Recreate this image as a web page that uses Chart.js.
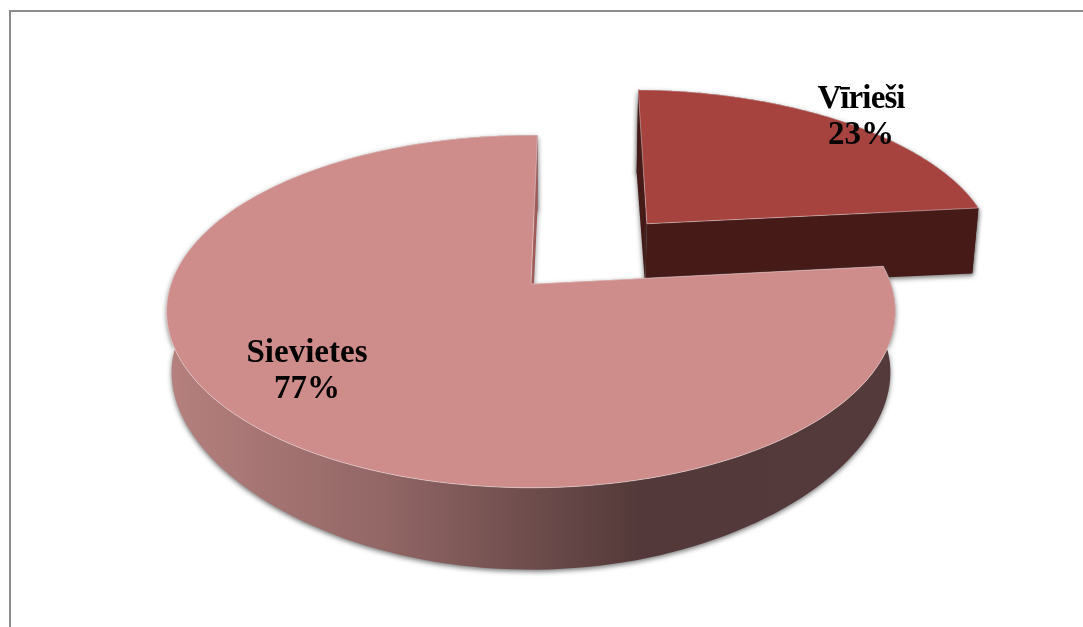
<!DOCTYPE html>
<html>
<head>
<meta charset="utf-8">
<title>Vīrieši / Sievietes</title>
<script src="https://cdn.jsdelivr.net/npm/chart.js@4"></script>
<style>
  html, body { margin: 0; background: #fff; overflow: hidden; }
  #frame { position: absolute; left: 9px; top: 10px; right: -4px; bottom: -4px;
           border-left: 2px solid #8c8c8c; border-top: 2px solid #8c8c8c; }
  #stats { position: absolute; left: 0; top: 0; }
</style>
</head>
<body>
<div id="frame"></div>
<canvas id="stats" width="1083" height="627"></canvas>
<script>
const categories = ["Vīrieši", "Sievietes"];
const shares = [23, 77];
const faceColors = ["#a6433f", "#ce8c8b"];
const cutColors = ["#451a17", "#a05a58"];
const labelSpots = [[861, 108, 144], [307, 362, 398]];
const labelSpacing = ["-0.9px", "0px"];

// perspective of the disc, fitted by eye on the reference
const top3d = { cx: 531, cy: 284, rx: 360, ry: 172, kx: 0.156, ky: 0.156 };
const low3d = { cx: 531, cy: 345, rx: 355, ry: 168.5, kx: 0.156, ky: 0.25 };

function project(px, py, view) {
  return [
    view.cx + view.rx * px / (1 + view.kx * py),
    view.cy - view.ry * py / (1 + view.ky * py),
  ];
}

function trace(ctx, pts) {
  ctx.beginPath();
  pts.forEach((p, i) => (i ? ctx.lineTo(p[0], p[1]) : ctx.moveTo(p[0], p[1])));
  ctx.closePath();
}

class Arc3D extends Chart.ArcElement {
  static id = "arc3d";

  draw(ctx) {
    const { startAngle, endAngle, outerRadius, options } = this;
    const mid = (startAngle + endAngle) / 2;
    const shift = options.offset / outerRadius;
    const ox = Math.cos(mid) * shift;
    const oy = -Math.sin(mid) * shift;

    const rim = [];
    const steps = 160;
    for (let i = 0; i <= steps; i++) {
      const a = startAngle + (endAngle - startAngle) * i / steps;
      rim.push([ox + Math.cos(a), oy - Math.sin(a)]);
    }
    const high = rim.map(p => project(p[0], p[1], top3d));
    const low = rim.map(p => project(p[0], p[1], low3d));
    const tipHigh = project(ox, oy, top3d);
    const tipLow = project(ox, oy, low3d);
    const last = rim.length - 1;
    const i = this.$context.dataIndex;

    ctx.save();
    ctx.shadowColor = "rgba(60,60,60,0.7)";
    ctx.shadowBlur = 5;
    ctx.shadowOffsetX = 0;
    ctx.shadowOffsetY = 2;

    // side wall
    const wall = ctx.createLinearGradient(170, 0, 895, 0);
    wall.addColorStop(0, "#b5807d");
    wall.addColorStop(0.3, "#916665");
    wall.addColorStop(0.65, "#533939");
    wall.addColorStop(1, "#543a3a");
    ctx.fillStyle = i === 0 ? cutColors[0] : wall;
    trace(ctx, high.concat(low.slice().reverse()));
    ctx.fill();

    // the two cut faces
    ctx.fillStyle = cutColors[i];
    trace(ctx, [tipHigh, high[0], low[0], tipLow]);
    ctx.fill();
    trace(ctx, [tipHigh, high[last], low[last], tipLow]);
    ctx.fill();
    ctx.restore();

    // top face
    ctx.fillStyle = options.backgroundColor;
    trace(ctx, [tipHigh].concat(high));
    ctx.fill();
    ctx.strokeStyle = "rgba(255,255,255,0.4)";
    ctx.lineWidth = 1;
    ctx.stroke();
  }
}

class Pie3D extends Chart.PieController {
  static id = "pie3d";
  static defaults = { dataElementType: "arc3d" };
}

Chart.register(Arc3D, Pie3D);

const sliceLabels = {
  id: "sliceLabels",
  afterDatasetsDraw(chart) {
    const { ctx } = chart;
    const total = shares.reduce((a, b) => a + b, 0);
    ctx.save();
    ctx.fillStyle = "#000";
    ctx.font = 'bold 33px "Liberation Serif", serif';
    ctx.textAlign = "center";
    ctx.textBaseline = "alphabetic";
    categories.forEach((name, i) => {
      const [x, y1, y2] = labelSpots[i];
      ctx.letterSpacing = labelSpacing[i];
      ctx.fillText(name, x, y1);
      ctx.letterSpacing = "0px";
      ctx.fillText(Math.round(shares[i] / total * 100) + "%", x, y2);
    });
    ctx.restore();
  },
};

new Chart(document.getElementById("stats"), {
  type: "pie3d",
  data: {
    labels: categories,
    datasets: [
      {
        data: shares,
        backgroundColor: faceColors,
        offset: [126, 0],
        borderWidth: 0,
      },
    ],
  },
  options: {
    responsive: false,
    animation: false,
    rotation: 1.2,
    plugins: {
      legend: { display: false },
      tooltip: { enabled: false },
    },
  },
  plugins: [sliceLabels],
});
</script>
</body>
</html>
